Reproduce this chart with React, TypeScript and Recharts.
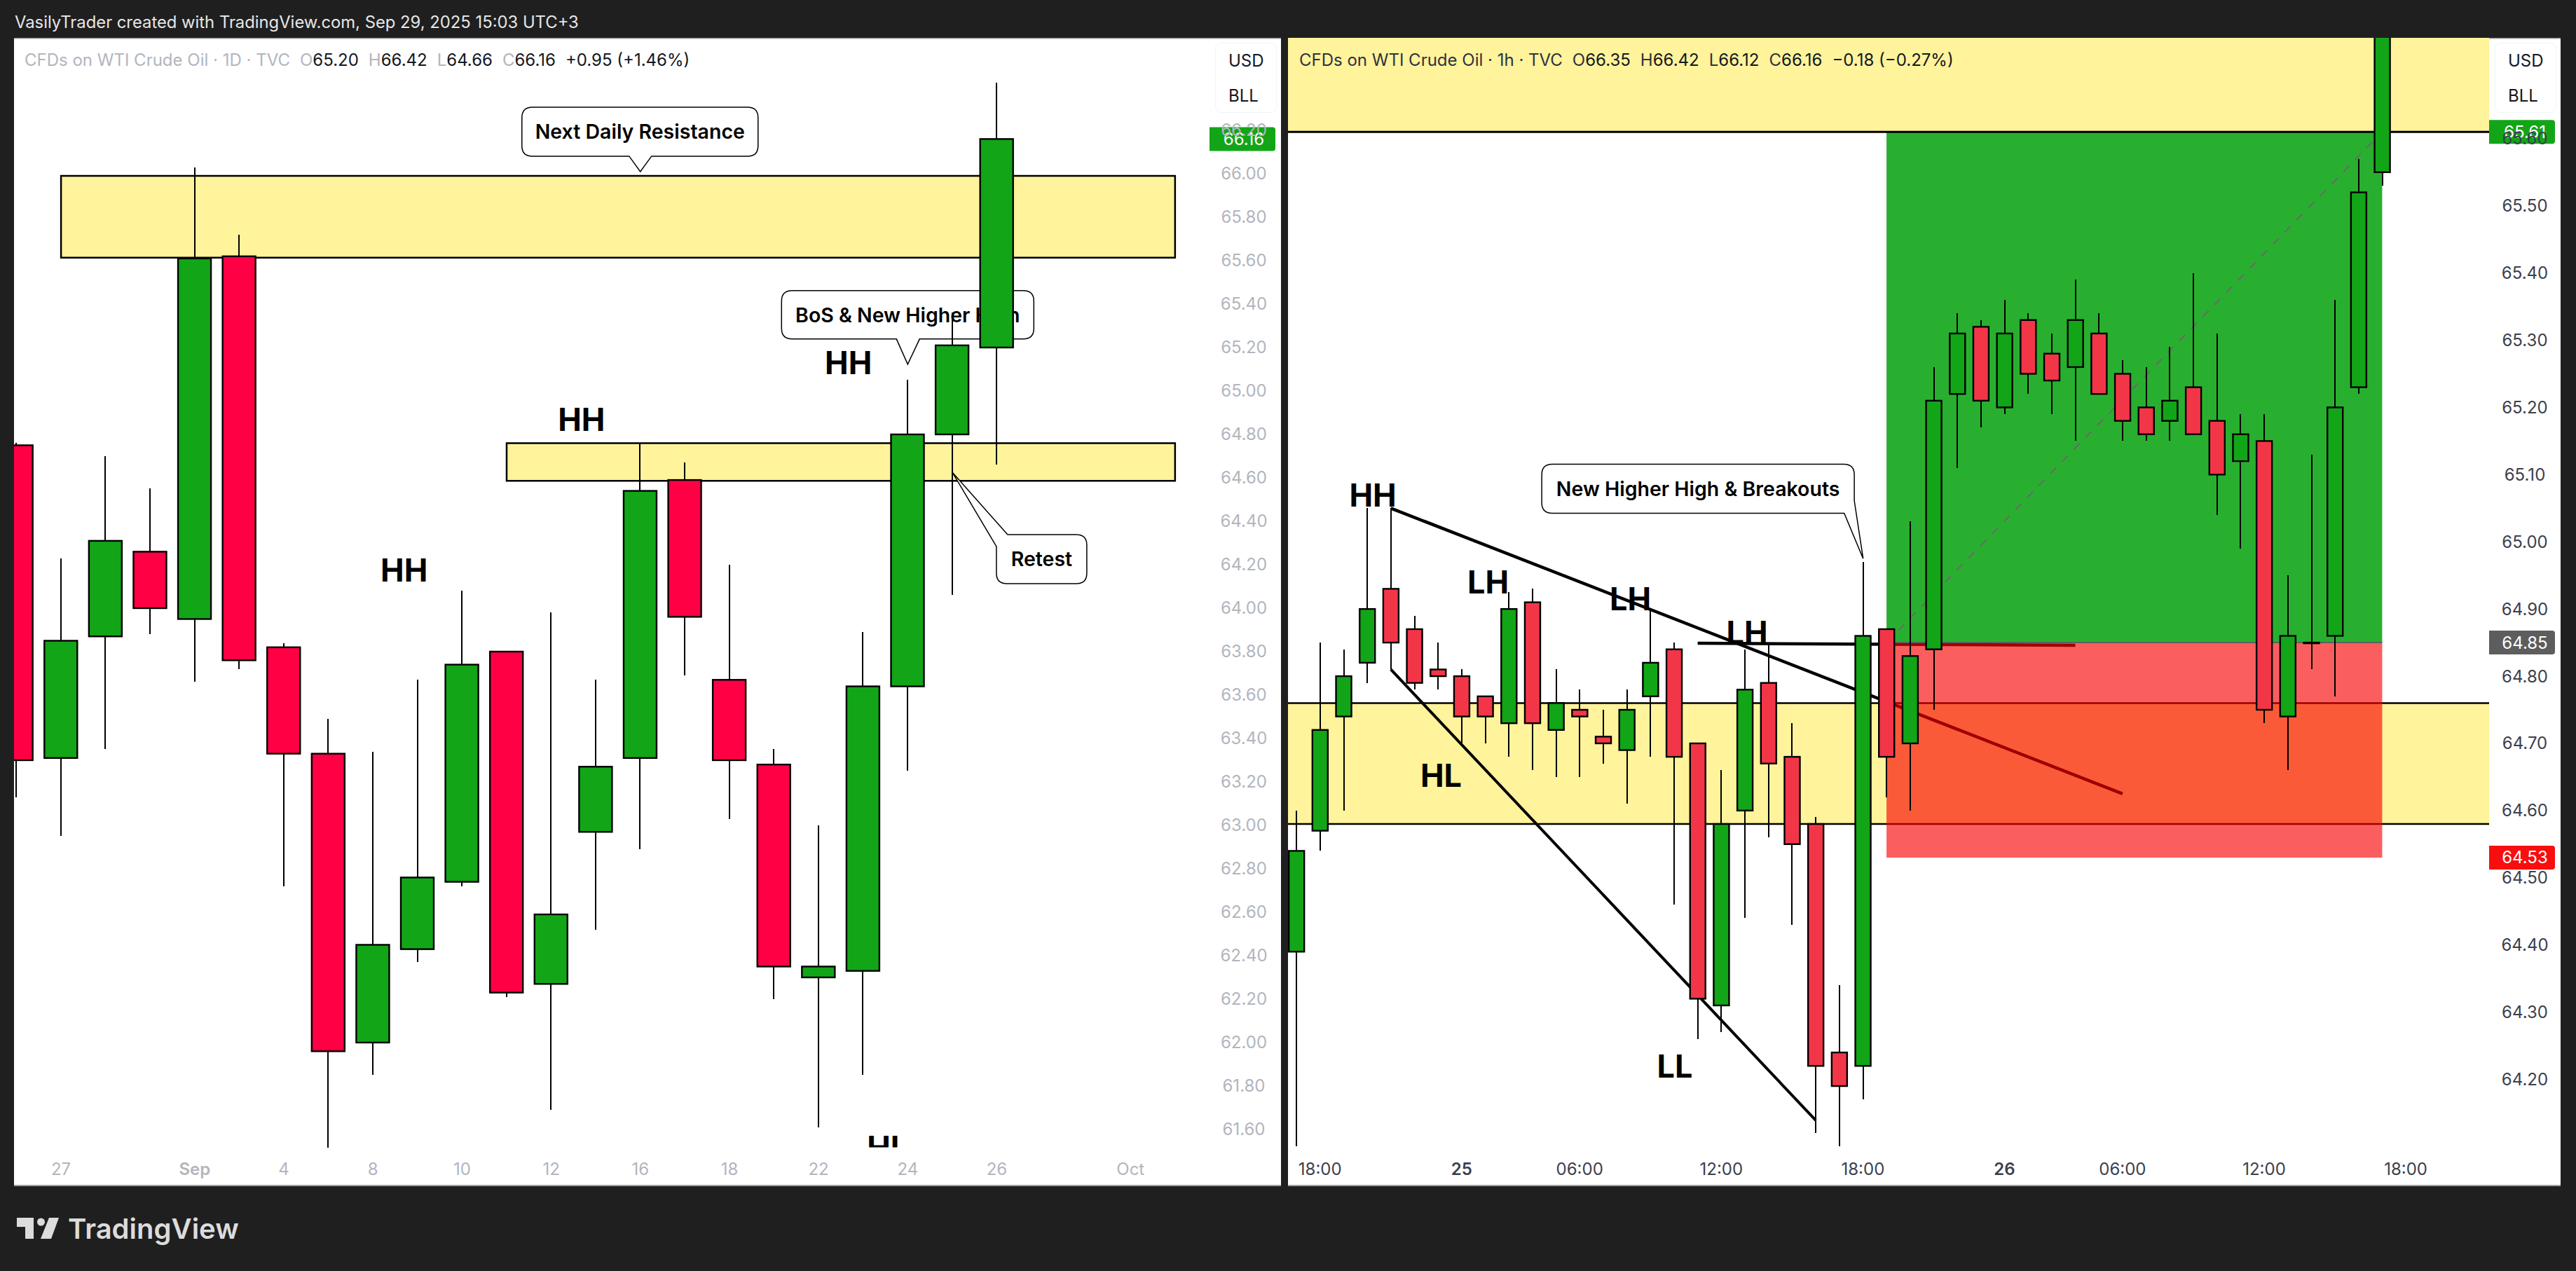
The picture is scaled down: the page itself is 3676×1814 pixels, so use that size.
import React from 'react';
import {
  Bar,
  ComposedChart,
  ReferenceArea,
  ReferenceDot,
  ReferenceLine,
  XAxis,
  YAxis,
} from 'recharts';

const UP = '#12a518';
const DAILY_DOWN = '#ff0045';
const HOURLY_DOWN = '#f23648';
const ZONE = '#fff39b';
const FONT = 'Inter, "Noto Sans", sans-serif';

// 1D panel
const dailyOpen = [64.75, 63.31, 63.87, 64.26, 63.95, 65.62, 63.82, 63.33, 62.0, 62.43, 62.74, 63.8, 62.27, 62.97, 63.31, 64.59, 63.67, 63.28, 62.3, 62.33, 63.64, 64.8, 65.2];
const dailyHigh = [64.76, 64.23, 64.7, 64.55, 66.03, 65.72, 63.84, 63.49, 63.34, 63.67, 64.08, 63.8, 63.98, 63.67, 64.76, 64.67, 64.2, 63.35, 63.0, 63.89, 65.05, 65.36, 66.42];
const dailyLow = [63.13, 62.95, 63.35, 63.88, 63.66, 63.72, 62.72, 61.5, 61.85, 62.37, 62.72, 62.21, 61.69, 62.52, 62.89, 63.69, 63.03, 62.2, 61.61, 61.85, 63.25, 64.06, 64.66];
const dailyClose = [63.3, 63.85, 64.31, 64.0, 65.61, 63.76, 63.33, 61.96, 62.45, 62.76, 63.74, 62.23, 62.59, 63.27, 64.54, 63.96, 63.3, 62.35, 62.35, 63.64, 64.8, 65.21, 66.16];
const dailyPriceTicks = [61.6, 61.8, 62, 62.2, 62.4, 62.6, 62.8, 63, 63.2, 63.4, 63.6, 63.8, 64, 64.2, 64.4, 64.6, 64.8, 65, 65.2, 65.4, 65.6, 65.8, 66, 66.2];
const dailyTimeIndex = [1, 4, 6, 8, 10, 12, 14, 16, 18, 20, 22, 25];
const dailyTimeLabels = ['27', 'Sep', '4', '8', '10', '12', '16', '18', '22', '24', '26', 'Oct'];

// 1h panel
const hourlyOpen = [64.39, 64.57, 64.74, 64.82, 64.93, 64.87, 64.81, 64.8, 64.77, 64.73, 64.91, 64.72, 64.75, 64.71, 64.69, 64.77, 64.84, 64.7, 64.31, 64.6, 64.79, 64.68, 64.58, 64.24, 64.22, 64.87, 64.7, 64.84, 65.22, 65.32, 65.2, 65.33, 65.28, 65.26, 65.31, 65.25, 65.2, 65.18, 65.23, 65.18, 65.12, 65.15, 64.74, 64.85, 64.86, 65.23, 65.55];
const hourlyHigh = [64.6, 64.85, 64.84, 65.05, 65.05, 64.89, 64.85, 64.81, 64.77, 64.925, 64.93, 64.81, 64.78, 64.75, 64.78, 64.9, 64.85, 64.7, 64.66, 64.84, 64.85, 64.73, 64.59, 64.34, 64.97, 64.87, 65.03, 65.26, 65.34, 65.33, 65.36, 65.34, 65.31, 65.39, 65.34, 65.27, 65.26, 65.29, 65.4, 65.31, 65.19, 65.19, 64.95, 65.13, 65.36, 65.57, 65.9];
const hourlyLow = [64.1, 64.54, 64.6, 64.79, 64.81, 64.78, 64.78, 64.7, 64.7, 64.68, 64.66, 64.65, 64.65, 64.67, 64.61, 64.68, 64.46, 64.26, 64.27, 64.44, 64.56, 64.43, 64.12, 64.1, 64.17, 64.62, 64.6, 64.75, 65.11, 65.17, 65.19, 65.22, 65.19, 65.15, 65.22, 65.15, 65.15, 65.15, 65.16, 65.04, 64.99, 64.73, 64.66, 64.81, 64.77, 65.22, 65.53];
const hourlyClose = [64.54, 64.72, 64.8, 64.9, 64.85, 64.79, 64.8, 64.74, 64.74, 64.9, 64.73, 64.76, 64.74, 64.7, 64.75, 64.82, 64.68, 64.32, 64.58, 64.78, 64.67, 64.55, 64.22, 64.19, 64.86, 64.68, 64.83, 65.21, 65.31, 65.21, 65.31, 65.25, 65.24, 65.33, 65.22, 65.18, 65.16, 65.21, 65.16, 65.1, 65.16, 64.75, 64.86, 64.85, 65.2, 65.52, 65.85];
const hourlyPriceTicks = [64.2, 64.3, 64.4, 64.5, 64.6, 64.7, 64.8, 64.9, 65, 65.1, 65.2, 65.3, 65.4, 65.5, 65.6];
const hourlyTimeIndex = [1, 7, 12, 18, 24, 30, 35, 41, 47];
const hourlyTimeLabels = ['18:00', '25', '06:00', '12:00', '18:00', '26', '06:00', '12:00', '18:00'];

const toRows = (open: number[], high: number[], low: number[], close: number[]) =>
  open.map((o, i) => ({ i, open: o, high: high[i], low: low[i], close: close[i], range: [low[i], high[i]] }));

const dailyRows = toRows(dailyOpen, dailyHigh, dailyLow, dailyClose);
const hourlyRows = toRows(hourlyOpen, hourlyHigh, hourlyLow, hourlyClose);

const dailyMarks = [
  { i: 18.67, v: 65.13, text: 'HH' },
  { i: 8.7, v: 64.176, text: 'HH' },
  { i: 12.68, v: 64.87, text: 'HH' },
];
const hourlyMarks = [
  { i: 3.24, v: 65.07, text: 'HH' },
  { i: 8.12, v: 64.94, text: 'LH' },
  { i: 14.15, v: 64.915, text: 'LH' },
  { i: 19.09, v: 64.865, text: 'LH' },
  { i: 6.13, v: 64.652, text: 'HL' },
  { i: 16.03, v: 64.22, text: 'LL' },
];

// drawing layers, everything the trader drew stays under the candles
const Z_ZONE = 10;
const Z_LINE = 20;
const Z_TOOL = 30;
const Z_TOOL_LINE = 40;
const Z_NOTE = 50;
const Z_CANDLE = 300;
const Z_BADGE = 1000;

const candle = (downColor: string, wickWidth: number) => (props: any) => {
  const { x, y, width, height, payload } = props;
  const { open, high, low, close } = payload;
  const yOf = (v: number) => y + ((high - v) * height) / (high - low);
  const top = yOf(Math.max(open, close));
  const bottom = yOf(Math.min(open, close));
  const mid = x + width / 2;
  return (
    <g>
      <line x1={mid} x2={mid} y1={y} y2={y + height} stroke="#000" strokeWidth={wickWidth} shapeRendering="crispEdges" />
      <rect
        x={x + 1}
        y={top}
        width={width - 2}
        height={Math.max(bottom - top, 1)}
        fill={close >= open ? UP : downColor}
        stroke="#000"
        strokeWidth={2.4}
      />
    </g>
  );
};

const priceTick = (color: string, offset: number) => (props: any) => (
  <text
    x={props.x + offset}
    y={props.y}
    textAnchor="middle"
    dominantBaseline="central"
    fontFamily={FONT}
    fontSize={24}
    fill={color}
  >
    {props.payload.value.toFixed(2)}
  </text>
);

const timeTick = (index: number[], labels: string[], color: string, strong: string[]) => (props: any) => {
  const label = labels[index.indexOf(props.payload.value)];
  return (
    <text
      x={props.x}
      y={props.y + 30}
      textAnchor="middle"
      dominantBaseline="central"
      fontFamily={FONT}
      fontSize={24}
      fontWeight={strong.includes(label) ? 600 : 400}
      fill={color}
    >
      {label}
    </text>
  );
};

const markText = (text: string) => (props: any) => (
  <text
    x={props.cx}
    y={props.cy}
    textAnchor="middle"
    dominantBaseline="central"
    fontFamily={FONT}
    fontSize={45}
    fontWeight={700}
    fill="#000"
  >
    {text}
  </text>
);

// this one sits on the bottom edge of the pane, only its upper half shows
const cutMarkText = (text: string) => (props: any) => (
  <g>
    <clipPath id="cut-mark">
      <rect x={props.cx - 60} y={props.cy - 40} width={120} height={40} />
    </clipPath>
    <g clipPath="url(#cut-mark)">{markText(text)(props)}</g>
  </g>
);

// tail tip is the anchor, box is drawn relative to it
const callout = (text: string, path: string, w: number, h: number, tipX: number, tipY: number) => (props: any) => (
  <g transform={`translate(${props.cx - tipX},${props.cy - tipY})`}>
    <path d={path} fill="#fff" stroke="#000" strokeWidth={1.5} />
    <text
      x={w / 2}
      y={h / 2}
      textAnchor="middle"
      dominantBaseline="central"
      fontFamily={FONT}
      fontSize={28.5}
      fontWeight={600}
      fill="#000"
    >
      {text}
    </text>
  </g>
);

const priceBadge = (value: string, color: string, width: number, center: number) => (props: any) => (
  <g>
    <path
      d={`M${props.cx},${props.cy - 17} h${width - 4} q4,0 4,4 v26 q0,4 -4,4 h-${width - 4} z`}
      fill={color}
    />
    <text
      x={props.cx + center}
      y={props.cy}
      textAnchor="middle"
      dominantBaseline="central"
      fontFamily={FONT}
      fontSize={24}
      fill="#fff"
    >
      {value}
    </text>
  </g>
);

function UnitBox() {
  return (
    <div
      style={{
        position: 'absolute',
        right: 6,
        top: 7,
        width: 88,
        height: 100,
        boxSizing: 'border-box',
        border: '1px solid #f0f3fa',
        borderRadius: 8,
        background: '#fff',
        fontFamily: FONT,
        fontSize: 24,
        color: '#131722',
        paddingLeft: 18,
        lineHeight: '50px',
      }}
    >
      <div>USD</div>
      <div>BLL</div>
    </div>
  );
}

function Legend({ title, parts, change, left, titleColor, letterColor, valueColor }: any) {
  return (
    <div
      style={{
        position: 'absolute',
        left,
        top: 18,
        fontFamily: FONT,
        fontSize: 24,
        lineHeight: '28px',
        whiteSpace: 'nowrap',
        display: 'flex',
        gap: 14,
      }}
    >
      <span style={{ color: titleColor }}>{title}</span>
      {parts.map((p: string[]) => (
        <span key={p[0]}>
          <span style={{ color: letterColor }}>{p[0]}</span>
          <span style={{ color: valueColor }}>{p[1]}</span>
        </span>
      ))}
      <span style={{ color: valueColor }}>{change}</span>
    </div>
  );
}

const panelStyle = (left: number, width: number): React.CSSProperties => ({
  position: 'absolute',
  left,
  top: 54,
  width,
  height: 1639,
  background: '#fff',
  overflow: 'hidden',
  boxShadow: 'inset 0 1.5px 0 #a0a0a0, inset 0 -2px 0 #a0a0a0',
});

export default function App() {
  return (
    <div style={{ position: 'absolute', left: 0, top: 0, width: 3676, height: 1814, background: '#1f1f1f', overflow: 'hidden' }}>
      <div
        style={{
          position: 'absolute',
          left: 21,
          top: 18,
          fontFamily: FONT,
          fontSize: 23.8,
          lineHeight: '28px',
          color: '#e6e6e6',
          whiteSpace: 'nowrap',
        }}
      >
        VasilyTrader created with TradingView.com, Sep 29, 2025 15:03 UTC+3
      </div>

      <div style={panelStyle(20, 1808)}>
        <ComposedChart width={1808} height={1639} data={dailyRows} margin={{ top: 0, right: 0, bottom: 0, left: 0 }}>
          <XAxis
            xAxisId="t"
            dataKey="i"
            type="number"
            domain={[-0.055, 26.773]}
            allowDataOverflow
            ticks={dailyTimeIndex}
            interval={0}
            height={55}
            tickSize={0}
            tickMargin={0}
            axisLine={false}
            tick={timeTick(dailyTimeIndex, dailyTimeLabels, '#b2b5be', ['Sep'])}
          />
          <YAxis
            yAxisId="p"
            orientation="right"
            type="number"
            domain={[61.516, 66.6258]}
            allowDataOverflow
            ticks={dailyPriceTicks}
            interval={0}
            width={102}
            tickSize={0}
            tickMargin={0}
            axisLine={false}
            tick={priceTick('#b2b5be', 49)}
          />

          <ReferenceArea zIndex={Z_ZONE} xAxisId="t" yAxisId="p" x1={1} x2={26} y1={65.614} y2={65.99} fill={ZONE} fillOpacity={1} stroke="#000" strokeWidth={2.5} />
          <ReferenceArea zIndex={Z_ZONE} xAxisId="t" yAxisId="p" x1={11} x2={26} y1={64.586} y2={64.76} fill={ZONE} fillOpacity={1} stroke="#000" strokeWidth={2.5} />

          <ReferenceDot
            zIndex={Z_NOTE}
            xAxisId="t"
            yAxisId="p"
            x={14}
            y={66.01}
            ifOverflow="visible"
            shape={callout('Next Daily Resistance', 'M15,0 H322 Q337,0 337,15 V55 Q337,70 322,70 H185 L169,92 L153,70 H15 Q0,70 0,55 V15 Q0,0 15,0 Z', 337, 70, 169, 92)}
          />
          <ReferenceDot
            zIndex={Z_NOTE}
            xAxisId="t"
            yAxisId="p"
            x={20}
            y={65.123}
            ifOverflow="visible"
            shape={callout('BoS & New Higher High', 'M15,0 H345 Q360,0 360,15 V54 Q360,69 345,69 H197 L180,105 L164,69 H15 Q0,69 0,54 V15 Q0,0 15,0 Z', 360, 69, 180, 105)}
          />
          <ReferenceDot
            zIndex={Z_NOTE}
            xAxisId="t"
            yAxisId="p"
            x={21}
            y={64.626}
            ifOverflow="visible"
            shape={callout('Retest', 'M16,0 H114 Q129,0 129,15 V55 Q129,70 114,70 H15 Q0,70 0,55 V17 L-63,-89 Z', 129, 70, -63, -89)}
          />
          {dailyMarks.map((m, k) => (
            <ReferenceDot zIndex={Z_NOTE} key={k} xAxisId="t" yAxisId="p" x={m.i} y={m.v} ifOverflow="visible" shape={markText(m.text)} />
          ))}
          <ReferenceDot zIndex={Z_NOTE} xAxisId="t" yAxisId="p" x={19.55} y={61.518} ifOverflow="visible" shape={cutMarkText('HL')} />

          <Bar zIndex={Z_CANDLE} xAxisId="t" yAxisId="p" dataKey="range" barSize={49} shape={candle(DAILY_DOWN, 2)} isAnimationActive={false} />

          <ReferenceDot zIndex={Z_BADGE} xAxisId="t" yAxisId="p" x={26.773} y={66.16} ifOverflow="visible" shape={priceBadge('66.16', UP, 94, 49)} />
        </ComposedChart>
        <Legend
          left={15}
          title="CFDs on WTI Crude Oil · 1D · TVC"
          parts={[['O', '65.20'], ['H', '66.42'], ['L', '64.66'], ['C', '66.16']]}
          change="+0.95 (+1.46%)"
          titleColor="#b2b5be"
          letterColor="#b2b5be"
          valueColor="#131722"
        />
        <UnitBox />
      </div>

      <div style={panelStyle(1838, 1816)}>
        <ComposedChart width={1816} height={1639} data={hourlyRows} margin={{ top: 0, right: 0, bottom: 0, left: 0 }}>
          <XAxis
            xAxisId="t"
            dataKey="i"
            type="number"
            domain={[-0.356, 50.53]}
            allowDataOverflow
            ticks={hourlyTimeIndex}
            interval={0}
            height={55}
            tickSize={0}
            tickMargin={0}
            axisLine={false}
            tick={timeTick(hourlyTimeIndex, hourlyTimeLabels, '#3c404d', ['25', '26'])}
          />
          <YAxis
            yAxisId="p"
            orientation="right"
            type="number"
            domain={[64.0983, 65.75]}
            allowDataOverflow
            ticks={hourlyPriceTicks}
            interval={0}
            width={102}
            tickSize={0}
            tickMargin={0}
            axisLine={false}
            tick={priceTick('#3c404d', 51)}
          />

          <ReferenceArea zIndex={Z_ZONE} xAxisId="t" yAxisId="p" x1={-0.356} x2={50.53} y1={65.61} y2={65.75} fill={ZONE} fillOpacity={1} />
          <ReferenceArea zIndex={Z_ZONE} xAxisId="t" yAxisId="p" x1={-0.356} x2={50.53} y1={64.58} y2={64.76} fill={ZONE} fillOpacity={1} />
          <ReferenceArea zIndex={Z_ZONE} xAxisId="t" yAxisId="p" x1={25} x2={46} y1={64.85} y2={65.61} fill="#29af2f" fillOpacity={1} />
          <ReferenceLine zIndex={Z_LINE} xAxisId="t" yAxisId="p" y={65.61} stroke="#000" strokeWidth={3} />
          <ReferenceLine zIndex={Z_LINE} xAxisId="t" yAxisId="p" y={64.76} stroke="#000" strokeWidth={2.5} />
          <ReferenceLine zIndex={Z_LINE} xAxisId="t" yAxisId="p" y={64.58} stroke="#000" strokeWidth={2.5} />

          <ReferenceLine zIndex={Z_LINE} xAxisId="t" yAxisId="p" segment={[{ x: 4, y: 65.05 }, { x: 35, y: 64.625 }]} stroke="#000" strokeWidth={4.5} />
          <ReferenceLine zIndex={Z_LINE} xAxisId="t" yAxisId="p" segment={[{ x: 4, y: 64.81 }, { x: 22, y: 64.139 }]} stroke="#000" strokeWidth={4} />
          <ReferenceLine zIndex={Z_LINE} xAxisId="t" yAxisId="p" segment={[{ x: 17, y: 64.849 }, { x: 33, y: 64.846 }]} stroke="#000" strokeWidth={4.5} />

          <ReferenceArea zIndex={Z_TOOL} xAxisId="t" yAxisId="p" x1={25} x2={46} y1={64.53} y2={64.85} fill="#f90000" fillOpacity={0.63} />
          <ReferenceLine zIndex={Z_TOOL_LINE} xAxisId="t" yAxisId="p" segment={[{ x: 25, y: 64.85 }, { x: 46, y: 64.85 }]} stroke="#5f5f5f" strokeWidth={2} />
          <ReferenceLine zIndex={Z_TOOL_LINE} xAxisId="t" yAxisId="p" segment={[{ x: 25, y: 64.85 }, { x: 46, y: 65.61 }]} stroke="#6a6a6a" strokeWidth={2} strokeDasharray="12 12" />

          <ReferenceDot
            zIndex={Z_NOTE}
            xAxisId="t"
            yAxisId="p"
            x={24.01}
            y={64.975}
            ifOverflow="visible"
            shape={callout('New Higher High & Breakouts', 'M15,0 H431 Q446,0 446,15 V52 L458.6,134.7 L431.6,70 H15 Q0,70 0,55 V15 Q0,0 15,0 Z', 446, 70, 458.6, 134.7)}
          />
          {hourlyMarks.map((m, k) => (
            <ReferenceDot zIndex={Z_NOTE} key={k} xAxisId="t" yAxisId="p" x={m.i} y={m.v} ifOverflow="visible" shape={markText(m.text)} />
          ))}

          <Bar zIndex={Z_CANDLE} xAxisId="t" yAxisId="p" dataKey="range" barSize={24} shape={candle(HOURLY_DOWN, 2)} isAnimationActive={false} />

          <ReferenceDot zIndex={Z_BADGE} xAxisId="t" yAxisId="p" x={50.53} y={65.61} ifOverflow="visible" shape={priceBadge('65.61', UP, 94, 51)} />
          <ReferenceDot zIndex={Z_BADGE} xAxisId="t" yAxisId="p" x={50.53} y={64.85} ifOverflow="visible" shape={priceBadge('64.85', '#5d5d5d', 94, 51)} />
          <ReferenceDot zIndex={Z_BADGE} xAxisId="t" yAxisId="p" x={50.53} y={64.53} ifOverflow="visible" shape={priceBadge('64.53', '#f80e0e', 94, 51)} />
        </ComposedChart>
        <Legend
          left={16}
          title="CFDs on WTI Crude Oil · 1h · TVC"
          parts={[['O', '66.35'], ['H', '66.42'], ['L', '66.12'], ['C', '66.16']]}
          change="−0.18 (−0.27%)"
          titleColor="#2e3240"
          letterColor="#2e3240"
          valueColor="#131722"
        />
        <UnitBox />
      </div>

      <svg style={{ position: 'absolute', left: 0, top: 1720 }} width={100} height={60}>
        <path d="M24,18 H48 V48 H36 V31 H24 Z" fill="#dcdcdc" />
        <circle cx={58.5} cy={24} r={5.5} fill="#dcdcdc" />
        <path d="M70,18 H84 L73,48 H58 Z" fill="#dcdcdc" />
      </svg>
      <div
        style={{
          position: 'absolute',
          left: 97,
          top: 1729,
          fontFamily: FONT,
          fontSize: 40,
          fontWeight: 600,
          lineHeight: '50px',
          color: '#dcdcdc',
        }}
      >
        TradingView
      </div>
    </div>
  );
}
